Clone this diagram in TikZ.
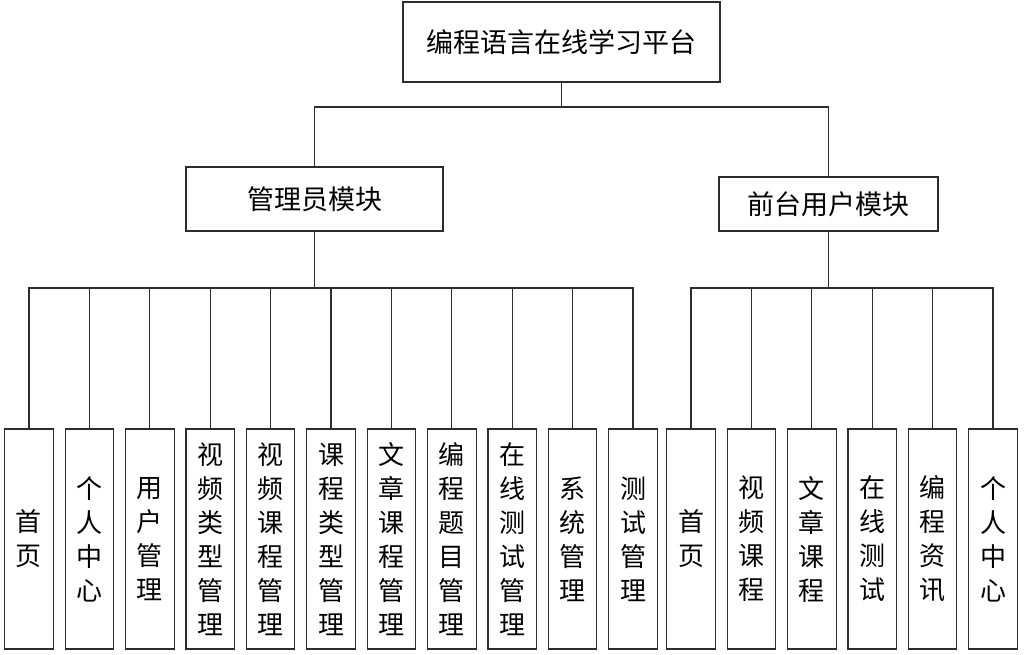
\documentclass[tikz,border=0pt]{standalone}
\usepackage{fontspec}
\newfontfamily\cjk{Noto Sans CJK SC}
\usetikzlibrary{positioning}
\definecolor{LineGray}{RGB}{45,45,45}
\tikzset{
  topbox/.style={draw=LineGray,line width=1.1pt,inner sep=0pt,
    font=\cjk\fontsize{27}{32}\selectfont},
  leaf/.style={draw=LineGray,line width=1.1pt,minimum width=48.5pt,
    minimum height=220pt,inner sep=0pt,align=center,
    font=\cjk\fontsize{26}{34}\selectfont},
  link/.style={LineGray,line width=1.1pt}
}

\begin{document}
\begin{tikzpicture}[x=1pt,y=-1pt,node distance=10.8pt]
  \useasboundingbox (0,0) rectangle (1024,654);

  % top level
  \node[topbox,minimum width=317pt,minimum height=80pt] (root) at (561.5,42) {编程语言在线学习平台};
  \node[topbox,minimum width=257pt,minimum height=64pt] (admin) at (314.5,199) {管理员模块};
  \node[topbox,minimum width=219pt,minimum height=54pt] (front) at (828.5,204) {前台用户模块};

  % admin leaves
  \node[leaf] (a1) at (29,539) {首\\页};
  \node[leaf,right=of a1] (a2) {个\\人\\中\\心};
  \node[leaf,right=of a2] (a3) {用\\户\\管\\理};
  \node[leaf,right=of a3] (a4) {视\\频\\类\\型\\管\\理};
  \node[leaf,right=of a4] (a5) {视\\频\\课\\程\\管\\理};
  \node[leaf,right=of a5] (a6) {课\\程\\类\\型\\管\\理};
  \node[leaf,right=of a6] (a7) {文\\章\\课\\程\\管\\理};
  \node[leaf,right=of a7] (a8) {编\\程\\题\\目\\管\\理};
  \node[leaf,right=of a8] (a9) {在\\线\\测\\试\\管\\理};
  \node[leaf,right=of a9] (a10) {系\\统\\管\\理};
  \node[leaf,right=of a10] (a11) {测\\试\\管\\理};

  % front leaves
  \node[leaf] (f1) at (691,539) {首\\页};
  \node[leaf,right=of f1] (f2) {视\\频\\课\\程};
  \node[leaf,right=of f2] (f3) {文\\章\\课\\程};
  \node[leaf,right=of f3] (f4) {在\\线\\测\\试};
  \node[leaf,right=of f4] (f5) {编\\程\\资\\讯};
  \node[leaf,right=of f5] (f6) {个\\人\\中\\心};

  % connectors
  \coordinate (topbar) at (0,107);
  \coordinate (leafbar) at (0,288);
  \draw[link] (root.south) -- (root.south |- topbar);
  \draw[link] (admin.north) |- (front.north |- topbar) -- (front.north);

  \draw[link] (admin.south) -- (admin.south |- leafbar);
  \draw[link] (a1.north) |- (a11.north |- leafbar) -- (a11.north);
  \draw[link] (a2.north) -- (a2.north |- leafbar);
  \draw[link] (a3.north) -- (a3.north |- leafbar);
  \draw[link] (a4.north) -- (a4.north |- leafbar);
  \draw[link] (a5.north) -- (a5.north |- leafbar);
  \draw[link] (a6.north) -- (a6.north |- leafbar);
  \draw[link] (a7.north) -- (a7.north |- leafbar);
  \draw[link] (a8.north) -- (a8.north |- leafbar);
  \draw[link] (a9.north) -- (a9.north |- leafbar);
  \draw[link] (a10.north) -- (a10.north |- leafbar);

  \draw[link] (front.south) -- (front.south |- leafbar);
  \draw[link] (f1.north) |- (f6.north |- leafbar) -- (f6.north);
  \draw[link] (f2.north) -- (f2.north |- leafbar);
  \draw[link] (f3.north) -- (f3.north |- leafbar);
  \draw[link] (f4.north) -- (f4.north |- leafbar);
  \draw[link] (f5.north) -- (f5.north |- leafbar);
\end{tikzpicture}
\end{document}
